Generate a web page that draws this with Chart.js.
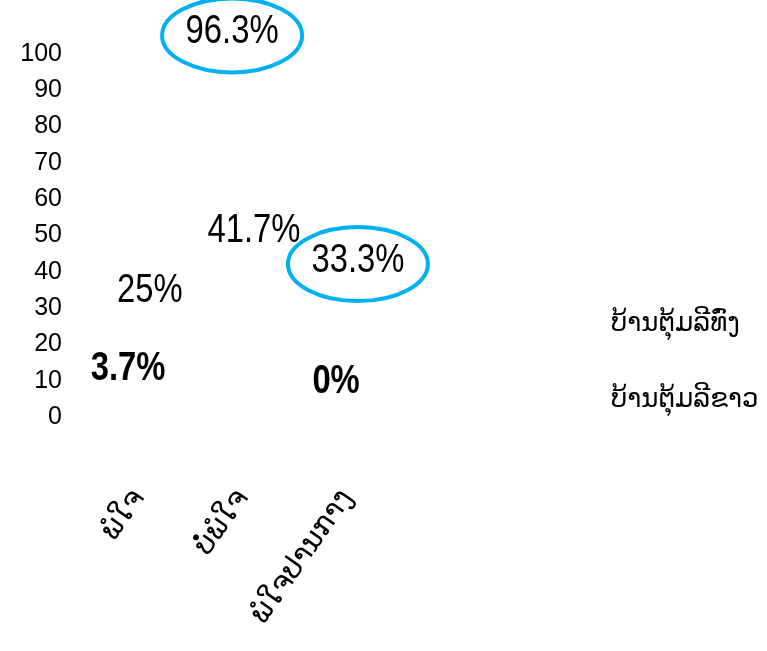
<!DOCTYPE html>
<html><head><meta charset="utf-8">
<script src="https://cdn.jsdelivr.net/npm/chart.js@4.4.0/dist/chart.umd.min.js"></script>
<style>html,body{margin:0;padding:0;background:#fff}#wrap{width:767px;height:651px;position:relative}</style>
</head><body><div id="wrap"><canvas id="c"></canvas></div>
<script>
// ---- data ----
const categories = ['ພໍໃຈ', 'ບໍ່ພໍໃຈ', 'ພໍໃຈປານກາງ'];
const seriesNames = ['ບ້ານຕຸ້ມລີທົ່ງ', 'ບ້ານຕຸ້ມລີຂາວ'];
const seriesThong = [3.7, 96.3, 0];
const seriesKhao = [25, 41.7, 33.3];
const yMin = 0, yMax = 100, yStep = 10;
// labels circled in the reference: [datasetIndex, categoryIndex]
const highlighted = [[0, 1], [1, 2]];

const NUM_FONT = "'Liberation Sans', Arial, sans-serif";
const LAO_FONT = "'DejaVu Sans', 'Noto Sans', sans-serif";
const NARROW = 0.82; // horizontal squeeze to mimic a narrow face

const isHighlighted = (di, i) => highlighted.some(h => h[0] === di && h[1] === i);

const valueLabels = {
  id: 'valueLabels',
  afterDatasetsDraw(chart) {
    const ctx = chart.ctx;
    chart.data.datasets.forEach((ds, di) => {
      const meta = chart.getDatasetMeta(di);
      meta.data.forEach((el, i) => {
        const v = ds.data[i];
        const hl = isHighlighted(di, i);
        const bold = di === 0 && !hl;
        const x = el.x, y = el.y - 37;
        ctx.save();
        ctx.fillStyle = '#000';
        ctx.textAlign = 'center';
        ctx.textBaseline = 'middle';
        ctx.font = (bold ? 'bold ' : '') + '40px ' + NUM_FONT;
        ctx.translate(x, y);
        ctx.scale(NARROW, 1);
        ctx.fillText(v + '%', 0, 2);
        ctx.restore();
        if (hl) {
          ctx.save();
          ctx.beginPath();
          ctx.strokeStyle = '#00b0f0';
          ctx.lineWidth = 4;
          ctx.ellipse(x, y + 5, 70, 37, 0, 0, Math.PI * 2);
          ctx.stroke();
          ctx.restore();
        }
      });
    });
  }
};

const sideLegend = {
  id: 'sideLegend',
  afterDraw(chart) {
    const ctx = chart.ctx;
    const a = chart.chartArea;
    ctx.save();
    ctx.font = '26px ' + LAO_FONT;
    ctx.fillStyle = '#000';
    ctx.textAlign = 'left';
    ctx.textBaseline = 'middle';
    chart.data.datasets.forEach((ds, di) => {
      ctx.fillText(ds.label, a.right + 212, a.bottom - 93 + di * 76);
    });
    ctx.restore();
  }
};

new Chart(document.getElementById('c'), {
  type: 'bar',
  data: {
    labels: categories,
    datasets: [
      { label: seriesNames[0], data: seriesThong, backgroundColor: 'rgba(0,0,0,0)', borderWidth: 0 },
      { label: seriesNames[1], data: seriesKhao, backgroundColor: 'rgba(0,0,0,0)', borderWidth: 0 }
    ]
  },
  options: {
    responsive: true,
    maintainAspectRatio: false,
    animation: false,
    events: [],
    categoryPercentage: 0.42,
    barPercentage: 0.9,
    layout: { padding: { top: 54, left: 20, right: 368, bottom: 10 } },
    plugins: { legend: { display: false }, tooltip: { enabled: false } },
    scales: {
      x: {
        grid: { display: false, drawTicks: false },
        border: { display: false },
        ticks: {
          color: '#000',
          font: { family: LAO_FONT, size: 29 },
          minRotation: 55, maxRotation: 55,
          padding: 66,
          autoSkip: false
        },
        afterFit(s) { s.height = 224; }
      },
      y: {
        min: yMin, max: yMax,
        grid: { display: false, drawTicks: false },
        border: { display: false },
        ticks: {
          stepSize: yStep,
          autoSkip: false,
          color: '#000',
          font: { family: NUM_FONT, size: 25, lineHeight: 1 },
          padding: 25
        },
        afterFit(s) { s.width = 67; }
      }
    }
  },
  plugins: [valueLabels, sideLegend]
});
</script>
</body></html>
